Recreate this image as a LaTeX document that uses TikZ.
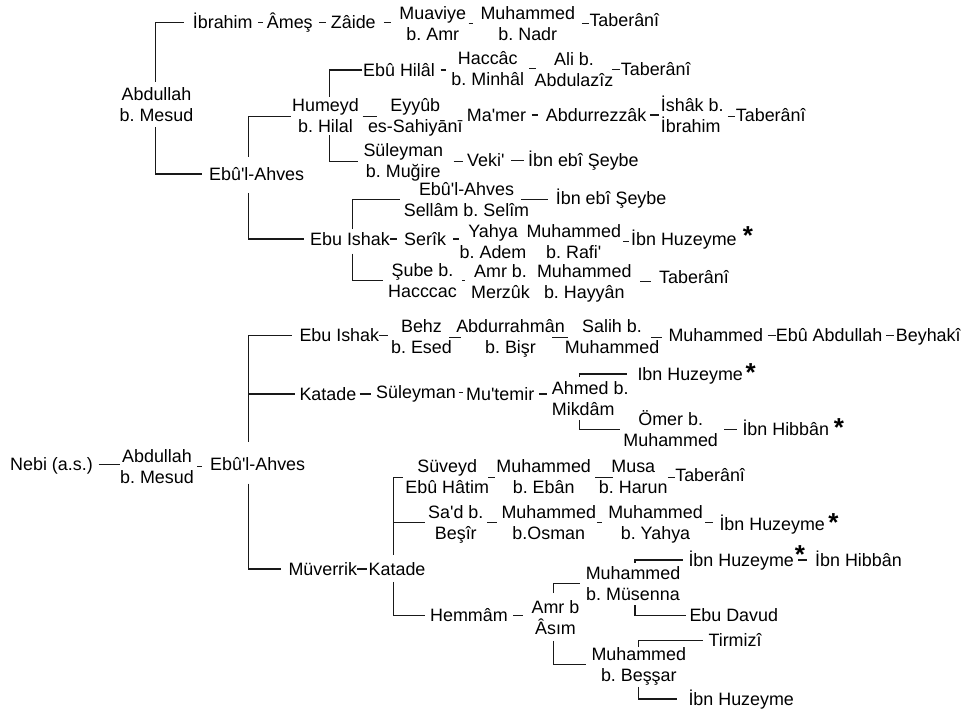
\documentclass[tikz,border=0pt]{standalone}
\usepackage{fontspec}
\setmainfont{Liberation Sans}[Ligatures=TeXOff]
\newcommand\fsz{\fontsize{17.9}{21}\selectfont\frenchspacing}
\newcommand\two[2]{\vtop{\baselineskip=21pt\lineskiplimit=-100pt\lineskip=0pt\halign{\hfil##\hfil\cr\raisebox{0pt}[12pt][0pt]{#1}\cr\raisebox{0pt}[12pt][0pt]{#2}\cr}}}
\newcommand\twol[2]{\vtop{\baselineskip=21pt\lineskiplimit=-100pt\lineskip=0pt\halign{##\hfil\cr\raisebox{0pt}[12pt][0pt]{#1}\cr\raisebox{0pt}[12pt][0pt]{#2}\cr}}}
\newcommand\dsh[4]{\draw[dl,shorten <=#3pt,shorten >=#4pt] (#1.east) -- (#1.east -| #2.west);}
\frenchspacing
\begin{document}
\begin{tikzpicture}[x=1pt,y=-1pt,font=\fsz,
  s/.style={inner sep=0pt,anchor=base west,text height=12pt,text depth=0pt},
  tw/.style={inner sep=0pt,anchor=base},
  twl/.style={inner sep=0pt,anchor=base west},
  br/.style={line width=1.1pt,color=black!90},
  dl/.style={line width=1.1pt,color=black!90},
  st/.style={inner sep=0pt,anchor=base,font=\fontsize{26}{26}\selectfont\bfseries}]
\useasboundingbox (0,0) rectangle (969,713);

% ---------- upper tree ----------
\node[tw] (abdA) at (156.5,100) {\two{Abdullah}{b. Mesud}};
\node[s] (ibrahim) at (192.7,28.3) {İbrahim};
\node[s] (ames) at (266.7,28.3) {Âmeş};
\node[s] (zaide) at (330.7,28.3) {Zâide};
\node[tw] (muaviye) at (432.8,19.3) {\two{Muaviye}{b. Amr}};
\node[tw] (muhNadr) at (527.8,19.3) {\two{Muhammed}{b. Nadr}};
\node[s] (tab1) at (589.3,26) {Taberânî};
\dsh{ibrahim}{ames}{5.3}{3.7}
\dsh{ames}{zaide}{6}{4.7}
\dsh{zaide}{muaviye}{8}{8}
\dsh{muaviye}{muhNadr}{2.3}{7.7}
\dsh{muhNadr}{tab1}{6.7}{0.3}

\node[s] (ebuAhvesA) at (209,180) {Ebû'l-Ahves};
\draw[br,shorten <=6.3pt,shorten >=8.7pt] ([xshift=-0.8pt]abdA.north) |- (ibrahim.west);
\draw[br,shorten <=5.7pt,shorten >=7.3pt] ([xshift=-0.8pt]abdA.south) |- (ebuAhvesA.west);

\node[tw] (humeyd) at (325.5,111.7) {\two{Humeyd}{b. Hilal}};
\node[s] (ebuHilal) at (363,76) {Ebû Hilâl};
\node[tw] (haccac) at (487.8,64.3) {\two{Haccâc}{b. Minhâl}};
\node[tw] (alib) at (574,65) {\two{Ali b.}{Abdulazîz}};
\node[s] (tab2) at (620.7,75.5) {Taberânî};
\dsh{ebuHilal}{haccac}{5.7}{5}
\dsh{haccac}{alib}{5}{-1.3}
\dsh{alib}{tab2}{-1.6}{0.7}

\node[tw] (eyyub) at (415.3,111.7) {\two{Eyyûb}{es-Sahiyānī}};
\node[s] (mamer) at (466.7,121) {Ma'mer};
\node[s] (abdurrezzak) at (545.7,121) {Abdurrezzâk};
\node[twl] (ishak) at (660.7,111.7) {\twol{İshâk b.}{İbrahim}};
\node[s] (tab3) at (735.7,121) {Taberânî};
\dsh{humeyd}{eyyub}{3.7}{-9.3}
\dsh{mamer}{abdurrezzak}{5.4}{8.2}
\dsh{abdurrezzak}{ishak}{3.3}{1.7}
\dsh{ishak}{tab3}{4}{0.7}

\node[tw] (suleymanA) at (403.3,156.7) {\two{Süleyman}{b. Muğire}};
\node[s] (veki) at (467,166.7) {Veki'};
\node[s] (ibnSeybe1) at (528,166.7) {İbn ebî Şeybe};
\dsh{suleymanA}{veki}{10.2}{3.7}
\dsh{veki}{ibnSeybe1}{6.7}{4}

\draw[br,shorten <=11.3pt,shorten >=0.5pt] ([xshift=-8.2pt]ebuAhvesA.north) |- (humeyd.west);
\draw[br,shorten <=3pt,shorten >=1.3pt] ([xshift=3.8pt]humeyd.north) |- (ebuHilal.west);
\draw[br,shorten <=2.3pt,shorten >=5.5pt] ([xshift=3.8pt]humeyd.south) |- (suleymanA.west);

\node[tw] (ebuAhvesB) at (466.5,195) {\two{Ebû'l-Ahves}{Sellâm b. Selîm}};
\node[s] (ibnSeybe2) at (555.7,204) {İbn ebî Şeybe};
\dsh{ebuAhvesB}{ibnSeybe2}{-8.5}{7.4}

\node[s] (ebuIshakA) at (310,245) {Ebu Ishak};
\node[s] (serik) at (404,245) {Serîk};
\node[tw] (yahya) at (493,237.3) {\two{Yahya}{b. Adem}};
\node[tw] (muhRafi) at (573.8,237.3) {\two{Muhammed}{b. Rafi'}};
\node[s] (ibnHuz1) at (631,245) {İbn Huzeyme};
\node[st] (star1) at (748,244.8) {*};
\dsh{ebuIshakA}{serik}{0}{7.3}
\dsh{serik}{yahya}{7.2}{0}
\dsh{muhRafi}{ibnHuz1}{2}{2}

\node[tw] (subeb) at (422.5,276) {\two{Şube b.}{Hacccac}};
\node[tw] (amrb) at (500.5,277) {\two{Amr b.}{Merzûk}};
\node[tw] (muhHayyan) at (584.3,277) {\two{Muhammed}{b. Hayyân}};
\node[s] (tab4) at (659,283.3) {Taberânî};
\dsh{subeb}{amrb}{4.9}{6}
\dsh{muhHayyan}{tab4}{8.5}{8.3}

\draw[br,shorten <=12.7pt,shorten >=6pt] ([xshift=-8.2pt]ebuAhvesA.south) |- (ebuIshakA.west);
\draw[br,shorten <=3.7pt,shorten >=3.8pt] ([xshift=2.5pt]ebuIshakA.north) |- (ebuAhvesB.west);
\draw[br,shorten <=8.3pt,shorten >=4.9pt] ([xshift=2.5pt]ebuIshakA.south) |- (subeb.west);

% ---------- lower tree ----------
\node[s] (nebi) at (10,470.7) {Nebi (a.s.)};
\node[tw] (abdB) at (157,462.3) {\two{Abdullah}{b. Mesud}};
\node[s] (ebuAhvesC) at (210,470.7) {Ebû'l-Ahves};
\dsh{nebi}{abdB}{5.7}{0}
\dsh{abdB}{ebuAhvesC}{3.2}{8}

\node[s] (ebuIshakB) at (299.3,341.7) {Ebu Ishak};
\node[tw] (behz) at (421.5,332.7) {\two{Behz}{b. Esed}};
\node[tw] (abdurrahman) at (510.5,332.7) {\two{Abdurrahmân}{b. Bişr}};
\node[tw] (salih) at (612,332.7) {\two{Salih b.}{Muhammed}};
\node[s] (muhB) at (668.3,341.7) {Muhammed};
\node[s] (ebuAbdullah) at (775.7,341.7) {Ebû Abdullah};
\node[s] (beyhaki) at (895.7,341.7) {Beyhakî};
\dsh{ebuIshakB}{behz}{0.1}{3}
\dsh{behz}{abdurrahman}{-3}{-5.4}
\dsh{abdurrahman}{salih}{-2.7}{-12.2}
\dsh{salih}{muhB}{-8.5}{6.3}
\dsh{muhB}{ebuAbdullah}{4.5}{0}
\dsh{ebuAbdullah}{beyhaki}{3.4}{1.7}

\node[s] (katadeB) at (299.3,400) {Katade};
\node[s] (suleymanB) at (376,398.3) {Süleyman};
\node[s] (mutemir) at (466,400) {Mu'temir};
\node[twl] (ahmed) at (551.7,394) {\twol{Ahmed b.}{Mikdâm}};
\node[s] (ibnHuz2) at (637.3,380) {Ibn Huzeyme};
\node[st] (star2) at (750.7,381.8) {*};
\node[tw] (omer) at (670.7,425) {\two{Ömer b.}{Muhammed}};
\node[s] (ibnHibban1) at (742.3,435) {İbn Hibbân};
\node[st] (star3) at (839,436.5) {*};
\dsh{katadeB}{suleymanB}{3.3}{5.3}
\dsh{suleymanB}{mutemir}{2.7}{2.7}
\dsh{mutemir}{ahmed}{4.3}{5}
\dsh{omer}{ibnHibban1}{6.1}{5}
\draw[br,shorten <=4.7pt,shorten >=10.6pt] ([xshift=27.6pt]ahmed.north west) |- (ibnHuz2.west);
\draw[br,shorten <=5pt,shorten >=2.8pt] ([xshift=27.6pt]ahmed.south west) |- (omer.west);

\node[s] (muverrik) at (288.3,575) {Müverrik};
\node[s] (katadeC) at (368.5,575) {Katade};
\dsh{muverrik}{katadeC}{0.1}{1.5}

\coordinate (spC) at ([xshift=-9.2pt]ebuAhvesC.north);
\draw[br,shorten <=17pt,shorten >=7.6pt] (spC) |- (ebuIshakB.west);
\draw[br,shorten >=4.3pt] (spC |- katadeB.west) -- (katadeB.west);
\draw[br,shorten <=12.6pt,shorten >=7.3pt] ([xshift=-9.2pt]ebuAhvesC.south) |- (muverrik.west);

\node[tw] (suveyd) at (447.2,472.7) {\two{Süveyd}{Ebû Hâtim}};
\node[tw] (muhEban) at (543.7,472.7) {\two{Muhammed}{b. Ebân}};
\node[tw] (musa) at (633.3,472.7) {\two{Musa}{b. Harun}};
\node[s] (tab5) at (675.1,481.7) {Taberânî};
\dsh{suveyd}{muhEban}{-1}{1.5}
\dsh{muhEban}{musa}{4}{-14.3}
\dsh{musa}{tab5}{0}{0.6}

\node[tw] (sad) at (455.8,518.3) {\two{Sa'd b.}{Beşîr}};
\node[tw] (muhOsman) at (548.8,518.3) {\two{Muhammed}{b.Osman}};
\node[tw] (muhYahya) at (655.5,518.3) {\two{Muhammed}{b. Yahya}};
\node[s] (ibnHuz3) at (719.3,530) {İbn Huzeyme};
\node[st] (star4) at (833.3,531.8) {*};
\dsh{sad}{muhOsman}{3.9}{4.3}
\dsh{muhOsman}{muhYahya}{0.7}{5.6}
\dsh{muhYahya}{ibnHuz3}{2.3}{6}

\node[s] (hemmam) at (430,621.7) {Hemmâm};
\node[tw] (amr) at (555.5,613.3) {\two{Amr b}{Âsım}};
\node[tw] (muhMusenna) at (633,579.3) {\two{Muhammed}{b. Müsenna}};
\node[tw] (muhBessar) at (638.8,660) {\two{Muhammed}{b. Beşşar}};
\node[s] (ibnHuz4) at (688.3,566) {İbn Huzeyme};
\node[st] (star5) at (800,563.8) {*};
\node[s] (ibnHibban2) at (815,566) {İbn Hibbân};
\node[s] (ebuDavud) at (689.3,621.7) {Ebu Davud};
\node[s] (tirmizi) at (708.3,646.7) {Tirmizî};
\node[s] (ibnHuz5) at (688.3,705) {İbn Huzeyme};
\dsh{hemmam}{amr}{5.4}{8.4}
\dsh{ibnHuz4}{ibnHibban2}{4.3}{8}

\coordinate (spK) at ([xshift=-3.6pt]katadeC.north);
\draw[br,shorten <=8pt,shorten >=2.1pt] (spK) |- (suveyd.west);
\draw[br,shorten >=3.2pt] (spK |- sad.west) -- (sad.west);
\draw[br,shorten <=6.7pt,shorten >=5pt] ([xshift=-3.6pt]katadeC.south) |- (hemmam.west);

\draw[br,shorten <=8pt,shorten >=5.8pt] ([xshift=-2.2pt]amr.north) |- (muhMusenna.west);
\draw[br,shorten <=6.4pt,shorten >=4.9pt] ([xshift=-2.2pt]amr.south) |- (muhBessar.west);
\draw[br,shorten <=4.6pt,shorten >=5.6pt] ([xshift=2pt]muhMusenna.north) |- (ibnHuz4.west);
\draw[br,shorten <=4.7pt,shorten >=3.3pt] ([xshift=2pt]muhMusenna.south) |- (ebuDavud.west);
\draw[br,shorten <=1.3pt,shorten >=5pt] ([xshift=-0.5pt]muhBessar.north) |- (tirmizi.west);
\draw[br,shorten <=5.7pt,shorten >=11.6pt] ([xshift=-0.5pt]muhBessar.south) |- (ibnHuz5.west);
\end{tikzpicture}
\end{document}
